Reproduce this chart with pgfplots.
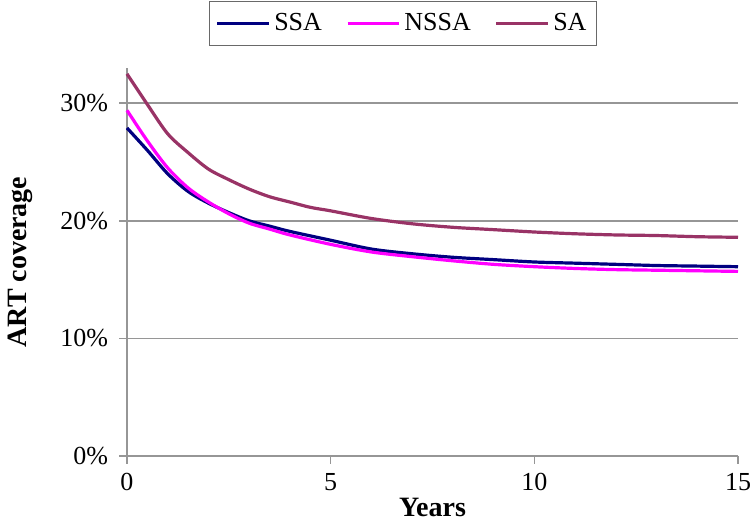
\documentclass[border=0pt]{standalone}
\usepackage{pgfplots}
\pgfplotsset{compat=1.18}
\usepackage{fontspec}
\setmainfont{Liberation Serif}
\definecolor{ssa}{RGB}{0,0,128}
\definecolor{nssa}{RGB}{255,0,255}
\definecolor{sa}{RGB}{153,51,102}
\definecolor{gridgray}{RGB}{150,150,150}
\begin{document}
\begin{tikzpicture}
\begin{axis}[
  name=main,
  scale only axis,
  width=305.5pt, height=194pt,
  xmin=0, xmax=15, ymin=0, ymax=33,
  axis x line=bottom, axis y line=left,
  axis line style={gridgray, line width=0.8pt, -},
  xtick={0,5,10,15}, ytick={0,10,20,30},
  xticklabels={0,5,10,15},
  yticklabels={0\%,10\%,20\%,30\%},
  major tick length=0pt,
  ymajorgrids, grid style={gridgray, line width=0.8pt},
  ticklabel style={font=\fontsize{13}{15}\selectfont},
  yticklabel style={xshift=-6pt},
  xticklabel style={yshift=-5pt},
  xlabel={\textbf{Years}}, ylabel={\textbf{ART coverage}},
  label style={font=\fontsize{14}{16}\selectfont},
  xlabel style={yshift=3pt},
  ylabel style={yshift=7pt},
  legend columns=3,
  legend style={at={(0.452,1.173)}, anchor=north, draw=gridgray!70!black,
    inner ysep=4pt,
    font=\fontsize{13}{15}\selectfont, /tikz/every even column/.append style={column sep=10pt}},
  legend image code/.code={\draw[#1] (0cm,0cm) -- (0.9cm,0cm);},
  clip=false,
]
% outward tick marks, as in the original
\pgfplotsinvokeforeach{0,5,10,15}{
  \draw[gridgray, line width=0.8pt] (axis cs:#1,0) -- ++(0,-4pt);
}
\pgfplotsinvokeforeach{0,10,20,30}{
  \draw[gridgray, line width=0.8pt] (axis cs:0,#1) -- ++(-4pt,0);
}
\addplot[ssa, line width=1.6pt, smooth] coordinates {
(0,27.9) (0.5,26.0) (1,24.0) (1.5,22.5) (2,21.5) (2.5,20.7) (3,20.0)
(3.5,19.55) (4,19.1) (5,18.35) (6,17.6) (7,17.2) (8,16.9) (9,16.7) (10,16.5)
(11,16.4) (12,16.3) (13,16.2) (14,16.15) (15,16.1)};
\addlegendentry{SSA}
\addplot[nssa, line width=1.6pt, smooth] coordinates {
(0,29.4) (0.5,26.8) (1,24.5) (1.5,22.8) (2,21.6) (2.5,20.6) (3,19.8)
(3.5,19.3) (4,18.8) (5,18.0) (6,17.35) (7,16.95) (8,16.6) (9,16.3) (10,16.1)
(11,15.95) (12,15.85) (13,15.8) (14,15.75) (15,15.7)};
\addlegendentry{NSSA}
\addplot[sa, line width=1.6pt, smooth] coordinates {
(0,32.5) (0.5,29.9) (1,27.4) (1.5,25.8) (2,24.4) (2.5,23.5) (3,22.7)
(3.5,22.05) (4,21.6) (4.5,21.15) (5,20.85) (6,20.2) (7,19.75) (8,19.45)
(9,19.25) (10,19.05) (11,18.9) (12,18.8) (13,18.75) (14,18.65) (15,18.6)};
\addlegendentry{SA}
\end{axis}
\pgfresetboundingbox
\path ([shift={(-63.5pt,-33.5pt)}]main.south west) rectangle ([shift={(6pt,34pt)}]main.north east);
\end{tikzpicture}
\end{document}
